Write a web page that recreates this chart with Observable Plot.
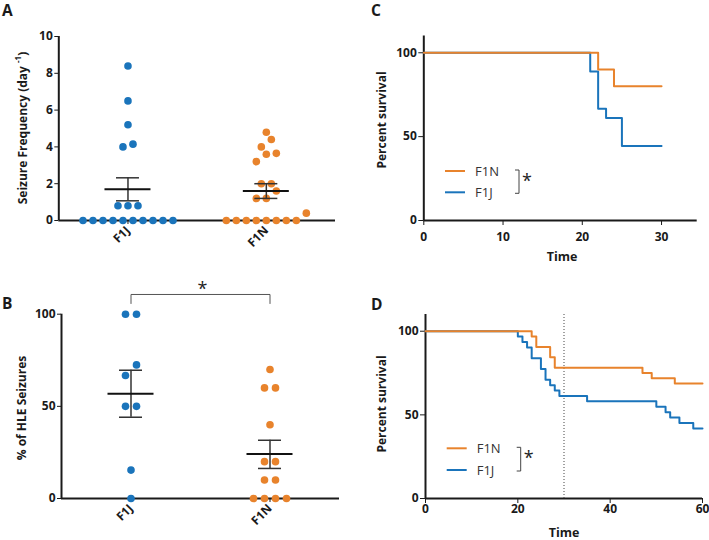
<!DOCTYPE html>
<html><head><meta charset="utf-8">
<script src="https://cdn.jsdelivr.net/npm/d3@7"></script>
<script src="https://cdn.jsdelivr.net/npm/@observablehq/plot@0.6"></script>
<style>
body{margin:0;background:#fff;}
#fig{position:relative;width:709px;height:540px;overflow:hidden;font-family:"Open Sans",sans-serif;}
#fig > svg, #fig > div{position:absolute;}
</style></head>
<body><div id="fig"></div>
<script>
// ---------- data ----------
const groups = ["F1J", "F1N"];
// Panel A: seizure frequency (day^-1)
const freqF1J = [8.4, 6.5, 5.2, 4.0, 4.15, 0.8, 0.8, 0.8, 0, 0, 0, 0, 0, 0, 0, 0, 0, 0];
const freqF1N = [4.8, 4.4, 4.0, 3.6, 3.65, 3.2, 2.0, 2.0, 1.6, 1.2, 1.2, 0.4, 0, 0, 0, 0, 0, 0, 0, 0];
const freqMean = [1.7, 1.61];
const freqSemLow = [1.07, 1.2];
const freqSemHigh = [2.32, 2.0];
const freqTicks = [0, 2, 4, 6, 8, 10];
// Panel B: % of HLE seizures
const hleF1J = [100, 100, 72.5, 66.7, 50, 50, 15.4, 0];
const hleF1N = [70, 60, 60, 40, 20, 20, 10, 10, 0, 0, 0, 0];
const hleMean = [56.8, 24.2];
const hleSemLow = [44.1, 16.3];
const hleSemHigh = [69.6, 31.6];
const hleTicks = [0, 50, 100];
const hleSignif = "*";
// Panel C: survival
const cTimeF1N = [0, 22, 24, 30];
const cSurvF1N = [100, 90, 80, 80];
const cTimeF1J = [0, 21, 22, 23, 25, 30];
const cSurvF1J = [100, 88.9, 66.7, 61.1, 44.4, 44.4];
const cTicksX = [0, 10, 20, 30];
// Panel D: survival
const dTimeF1N = [0, 23, 24, 27, 28, 47, 49, 54, 60];
const dSurvF1N = [100, 96.9, 90.6, 84.4, 78.1, 75, 71.9, 68.8, 68.8];
const dTimeF1J = [0, 20, 21, 22, 23, 25, 26, 27, 28, 29, 35, 50, 52, 53, 55, 58, 60];
const dSurvF1J = [100, 96.8, 93.5, 90.3, 83.9, 77.4, 71.0, 67.7, 64.5, 61.3, 58.1, 54.8, 51.6, 48.4, 45.2, 41.9, 41.9];
const dTicksX = [0, 20, 40, 60];
const dCutoff = [30];
const survTicksY = [0, 50, 100];
const legendLabels = ["F1N", "F1J"];

// ---------- style ----------
const BLUE = "#1a74bb", ORANGE = "#e8832c", INK = "#1a1a1a";
const gColor = [BLUE, ORANGE];
const FONT = '"Open Sans", sans-serif';
const baseStyle = {fontFamily: FONT, fontSize: "12px", fontWeight: "bold", color: INK, background: "transparent", overflow: "visible"};
const fig = document.getElementById("fig");

function swarm(values, pxPerUnit, spacing, rowTol, minDist) {
  const order = values.map((v, i) => i).sort((a, b) => values[a] - values[b]);
  const placed = [], off = new Array(values.length).fill(0);
  let i = 0;
  while (i < order.length) {
    const start = values[order[i]] * pxPerUnit;
    let j = i;
    while (j < order.length && values[order[j]] * pxPerUnit - start < rowTol) j++;
    const row = order.slice(i, j);
    row.forEach((k, m) => {
      const y = values[k] * pxPerUnit;
      const pref = (m - (row.length - 1) / 2) * spacing;
      const free = x => placed.every(p => Math.hypot(p.x - x, p.y - y) >= minDist - 1e-6);
      let x = pref;
      if (!free(x)) {
        const s = pref <= 0 ? -1 : 1;
        for (let d = 0.5; d < 300; d += 0.5) {
          if (free(pref + s * d)) { x = pref + s * d; break; }
          if (free(pref - s * d)) { x = pref - s * d; break; }
        }
      }
      placed.push({x, y}); off[k] = x;
    });
    i = j;
  }
  return off;
}

function scatterPanel(o) {
  const W = o.width, H = o.height;
  const pxX = (W - o.ml - o.mr) / 2;
  const pxY = (H - o.mt - o.mb) / (o.ymax);
  const dots = groups.flatMap((g, gi) => {
    const vals = o.series[gi];
    const off = swarm(vals, pxY, o.spacing, 11, 8);
    return vals.map((v, k) => ({gi, v, x: gi + 0.5 + off[k] / pxX}));
  });
  const stats = groups.map((g, gi) => ({gi, c: gi + 0.5, mean: o.mean[gi], lo: o.lo[gi], hi: o.hi[gi]}));
  const mh = 23 / pxX, wh = 11.5 / pxX;
  const marks = [
    Plot.ruleX([0], {stroke: INK, strokeWidth: 2}),
    Plot.ruleY([0], {stroke: INK, strokeWidth: 2}),
    Plot.dot(dots, {x: "x", y: "v", r: 3.8, fill: d => gColor[d.gi], stroke: null}),
    Plot.ruleX(stats, {x: "c", y1: "lo", y2: "hi", stroke: "#333", strokeWidth: 1.5}),
    Plot.ruleY(stats, {x1: d => d.c - wh, x2: d => d.c + wh, y: "lo", stroke: "#333", strokeWidth: 1.5}),
    Plot.ruleY(stats, {x1: d => d.c - wh, x2: d => d.c + wh, y: "hi", stroke: "#333", strokeWidth: 1.5}),
    Plot.ruleY(stats, {x1: d => d.c - mh, x2: d => d.c + mh, y: "mean", stroke: "#111", strokeWidth: 2})
  ];
  if (o.bracket) {
    const yb = o.bracket.top, ye = o.bracket.end;
    const path = [{x: 0.5, y: ye}, {x: 0.5, y: yb}, {x: 1.5, y: yb}, {x: 1.5, y: ye}];
    marks.push(Plot.line(path, {x: "x", y: "y", stroke: "#555", strokeWidth: 1}));
    marks.push(Plot.text([o.bracket.label], {x: 1, y: o.bracket.star, dx: 2, text: d => d, fontSize: 18, fontWeight: "normal", fill: "#222"}));
  }
  const svg = Plot.plot({
    width: W, height: H, marginLeft: o.ml, marginRight: o.mr, marginTop: o.mt, marginBottom: o.mb,
    style: baseStyle,
    x: {domain: [0, 2], ticks: [0.5, 1.5], tickFormat: d => groups[Math.floor(d)], tickRotate: -45, tickSize: 4, tickPadding: 4, label: null},
    y: {domain: [0, o.ymax], ticks: o.ticks, tickSize: 4, tickPadding: 2, label: null},
    marks
  });
  svg.style.left = o.left + "px"; svg.style.top = o.top + "px";
  fig.appendChild(svg);
}

scatterPanel({left: 0, top: 0, width: 350, height: 255, ml: 58.3, mr: 15, mt: 36, mb: 35, ymax: 10, ticks: freqTicks,
  series: [freqF1J, freqF1N], mean: freqMean, lo: freqSemLow, hi: freqSemHigh, spacing: 10});
scatterPanel({left: 0, top: 270, width: 350, height: 270, ml: 61, mr: 11, mt: 43.7, mb: 42, ymax: 100, ticks: hleTicks,
  series: [hleF1J, hleF1N], mean: hleMean, lo: hleSemLow, hi: hleSemHigh, spacing: 11,
  bracket: {top: 110.7, end: 105.8, star: 113.5, label: hleSignif}});

function survPanel(o) {
  const toRows = (T, S) => T.map((t, i) => ({t, s: S[i]}));
  const marks = [
    Plot.ruleX([0], {stroke: INK, strokeWidth: 2}),
    Plot.ruleY([0], {stroke: INK, strokeWidth: 2})
  ];
  if (o.cutoff) marks.push(Plot.ruleX(o.cutoff, {stroke: "#444", strokeWidth: 1, strokeDasharray: "1,2"}));
  marks.push(Plot.line(toRows(o.tJ, o.sJ), {x: "t", y: "s", curve: "step-after", stroke: BLUE, strokeWidth: 2}));
  marks.push(Plot.line(toRows(o.tN, o.sN), {x: "t", y: "s", curve: "step-after", stroke: ORANGE, strokeWidth: 2}));
  const svg = Plot.plot({
    width: o.width, height: o.height, marginLeft: o.ml, marginRight: o.mr, marginTop: o.mt, marginBottom: o.mb,
    style: baseStyle,
    x: {domain: [0, o.xmax], ticks: o.xticks, tickSize: 5, tickPadding: o.xpad, label: null},
    y: {domain: [0, 110], ticks: survTicksY, tickSize: 5, tickPadding: 2, label: null},
    marks
  });
  svg.style.left = o.left + "px"; svg.style.top = o.top + "px";
  fig.appendChild(svg);
}

survPanel({left: 355, top: 0, width: 354, height: 270, ml: 68.3, mr: 12.3, mt: 35.5, mb: 50, xmax: 34.5, xticks: cTicksX, xpad: 7,
  tN: cTimeF1N, sN: cSurvF1N, tJ: cTimeF1J, sJ: cSurvF1J});
survPanel({left: 355, top: 270, width: 354, height: 270, ml: 70, mr: 7, mt: 44, mb: 42, xmax: 60, xticks: dTicksX, xpad: 1,
  tN: dTimeF1N, sN: dSurvF1N, tJ: dTimeF1J, sJ: dSurvF1J, cutoff: dCutoff});

// ---------- text overlay: panel letters, axis titles, legends ----------
const ns = "http://www.w3.org/2000/svg";
function legend(x0, y0, y1) {
  const cols = [ORANGE, BLUE];
  let s = "";
  [y0, y1].forEach((y, i) => {
    s += `<line x1="${x0}" x2="${x0 + 20}" y1="${y}" y2="${y}" stroke="${cols[i]}" stroke-width="2"/>`;
    s += `<text x="${x0 + 30}" y="${y}" dominant-baseline="central" font-size="13" fill="#333">${legendLabels[i]}</text>`;
  });
  const bx = x0 + 74;
  s += `<polyline points="${bx - 4},${y0 - 1} ${bx},${y0 - 1} ${bx},${y1 + 1} ${bx - 4},${y1 + 1}" fill="none" stroke="#444" stroke-width="1"/>`;
  s += `<text x="${bx + 8}" y="${(y0 + y1) / 2 + 5}" text-anchor="middle" font-size="18" fill="#222">*</text>`;
  return s;
}
const overlay = `<svg xmlns="${ns}" width="709" height="540" style="left:0;top:0;pointer-events:none;overflow:visible" font-family='${FONT}' fill="${INK}">
  <g font-size="15.5" font-weight="bold">
    <text x="2" y="16">A</text><text x="2" y="309">B</text>
    <text x="371" y="16">C</text><text x="371" y="310">D</text>
  </g>
  <g font-size="12" font-weight="bold" text-anchor="middle" dominant-baseline="central">
    <text transform="translate(22.5,128) rotate(-90)">Seizure Frequency (day <tspan baseline-shift="super" font-size="8">-1</tspan>)</text>
    <text transform="translate(21.7,408) rotate(-90)">% of HLE Seizures</text>
    <text transform="translate(381.7,120) rotate(-90)">Percent survival</text>
    <text transform="translate(381.7,404) rotate(-90)">Percent survival</text>
    <text x="562" y="256.7" font-size="12.5">Time</text>
    <text x="564" y="532" font-size="12.5">Time</text>
  </g>
  ${legend(445, 171, 192.3)}
  ${legend(446.7, 448.3, 470)}
</svg>`;
fig.insertAdjacentHTML("beforeend", overlay);
</script>
</body></html>
